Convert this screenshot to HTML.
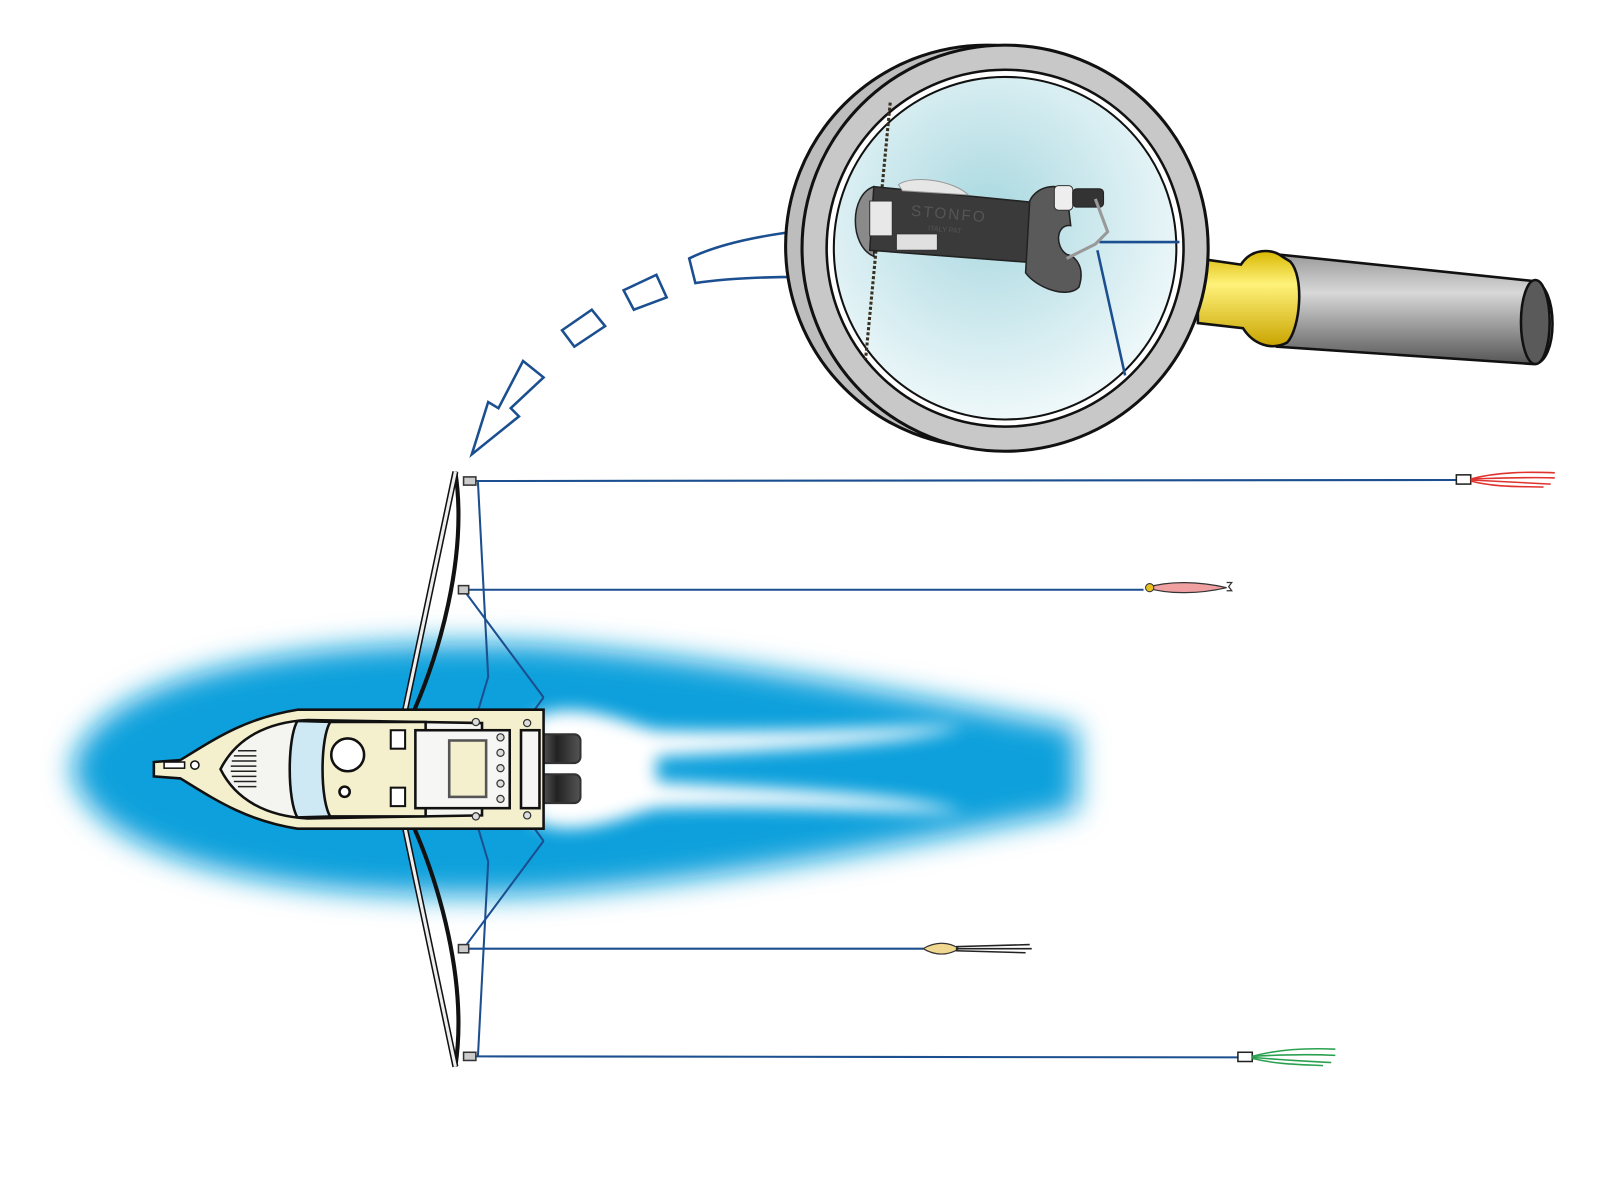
<!DOCTYPE html>
<html><head><meta charset="utf-8"><style>html,body{margin:0;padding:0;background:#fff}svg{display:block}</style></head>
<body>
<svg width="1600" height="1183" viewBox="0 0 1600 1183" xmlns="http://www.w3.org/2000/svg">
<defs>
<filter id="blur" x="-20%" y="-40%" width="140%" height="180%"><feGaussianBlur stdDeviation="14"/></filter>
<filter id="blur2" x="-20%" y="-40%" width="140%" height="180%"><feGaussianBlur stdDeviation="8"/></filter>
<radialGradient id="lens" cx="0.45" cy="0.4" r="0.6"><stop offset="0" stop-color="#a9d8e0"/><stop offset="1" stop-color="#eef8fa"/></radialGradient>
<linearGradient id="handle" x1="0" y1="0" x2="0" y2="1"><stop offset="0" stop-color="#9a9a9a"/><stop offset="0.35" stop-color="#d8d8d8"/><stop offset="1" stop-color="#555"/></linearGradient>
<linearGradient id="collar" x1="0" y1="0" x2="0" y2="1"><stop offset="0" stop-color="#d9b800"/><stop offset="0.35" stop-color="#fff27a"/><stop offset="1" stop-color="#c9a400"/></linearGradient>
<linearGradient id="motor" x1="0" y1="0" x2="1" y2="0"><stop offset="0" stop-color="#777"/><stop offset="0.5" stop-color="#222"/><stop offset="1" stop-color="#555"/></linearGradient>
</defs>
<g transform="scale(1.0256)">
<!-- water -->
<path d="M70,750 C90,650 320,620 520,628 C700,640 900,680 1050,710 L1050,790 C900,820 700,860 520,872 C320,880 90,850 70,750 Z" fill="#0aa0dc" filter="url(#blur)"/>
<path d="M520,700 C560,680 610,705 640,712 C760,716 880,708 940,708 C880,728 720,732 640,738 L640,762 C720,768 880,772 940,792 C880,792 760,784 640,788 C610,795 560,820 520,800 Z" fill="#fff" filter="url(#blur2)"/>

<!-- fishing lines -->
<g stroke="#1b4f8f" stroke-width="2" fill="none">
<line x1="460" y1="469" x2="1420" y2="468"/>
<line x1="452" y1="575" x2="1115" y2="575"/>
<line x1="452" y1="925" x2="900" y2="925"/>
<line x1="462" y1="1030" x2="1208" y2="1031"/>
<line x1="466" y1="470" x2="476" y2="660"/>
<line x1="476" y1="660" x2="464" y2="700"/>
<line x1="452" y1="575" x2="530" y2="680"/>
<line x1="530" y1="680" x2="514" y2="702"/>
<line x1="466" y1="1030" x2="476" y2="840"/>
<line x1="476" y1="840" x2="464" y2="800"/>
<line x1="452" y1="925" x2="530" y2="820"/>
<line x1="530" y1="820" x2="514" y2="798"/>
</g>

<!-- outriggers -->
<g stroke="#111" stroke-width="2.5">
<path d="M444,460 C456,540 430,640 394,714" fill="none" stroke-width="4"/>
<line x1="444" y1="460" x2="390" y2="716" stroke="#111" stroke-width="6"/>
<line x1="444" y1="460" x2="390" y2="716" stroke="#eee" stroke-width="3"/>
<path d="M444,1040 C456,960 430,860 394,786" fill="none" stroke-width="4"/>
<line x1="444" y1="1040" x2="390" y2="784" stroke="#111" stroke-width="6"/>
<line x1="444" y1="1040" x2="390" y2="784" stroke="#eee" stroke-width="3"/>
</g>
<g fill="#ccc" stroke="#333" stroke-width="1.5">
<rect x="452" y="465" width="12" height="8"/><rect x="447" y="571" width="10" height="8"/>
<rect x="447" y="921" width="10" height="8"/><rect x="452" y="1026" width="12" height="8"/>
</g>

<!-- motors -->
<rect x="520" y="716" width="46" height="28" rx="6" fill="url(#motor)" stroke="#333" stroke-width="2"/>
<rect x="520" y="755" width="46" height="28" rx="6" fill="url(#motor)" stroke="#333" stroke-width="2"/>

<!-- boat -->
<g stroke="#111" stroke-width="2.5">
<path d="M150,743 L176,741 C210,720 240,700 290,692 L530,692 L530,808 L290,808 C240,800 210,780 176,759 L150,757 Z" fill="#f4efcc"/>
<path d="M215,750 C230,720 260,704 300,702 L470,705 L470,795 L300,798 C260,796 230,780 215,750 Z" fill="#f4f4f0"/>
<path d="M290,703 C280,720 280,780 290,797 L325,796 C315,780 315,720 325,704 Z" fill="#cfe9f4"/>
<path d="M322,704 C312,720 312,780 322,796 L415,796 L415,704 Z" fill="#f4efcc"/>
<rect x="405" y="712" width="92" height="76" fill="#f6f6f4"/>
<rect x="438" y="722" width="36" height="55" fill="#f4efcc" stroke="#555"/>
<rect x="508" y="712" width="18" height="76" fill="#f6f6f4"/>
<circle cx="339" cy="736" r="16" fill="#fff"/>
<circle cx="336" cy="772" r="5" fill="#fff"/>
<circle cx="190" cy="746" r="4" fill="#fff" stroke-width="1.5"/>
<rect x="160" y="743" width="20" height="6" fill="#fff" stroke-width="1.5"/>
</g>
<g stroke="#222" stroke-width="1.5">
<line x1="228" y1="737" x2="250" y2="737"/><line x1="226" y1="742" x2="250" y2="742"/><line x1="225" y1="747" x2="250" y2="747"/><line x1="225" y1="752" x2="250" y2="752"/><line x1="226" y1="757" x2="250" y2="757"/><line x1="228" y1="762" x2="250" y2="762"/><line x1="232" y1="767" x2="250" y2="767"/><line x1="232" y1="732" x2="250" y2="732"/>
</g>
<g fill="#ddd" stroke="#333" stroke-width="1.2">
<circle cx="488" cy="734" r="3.5"/><circle cx="488" cy="749" r="3.5"/><circle cx="488" cy="764" r="3.5"/><circle cx="488" cy="779" r="3.5"/><circle cx="488" cy="719" r="3.5"/>
<circle cx="464" cy="704" r="3.5"/><circle cx="514" cy="705" r="3.5"/><circle cx="464" cy="796" r="3.5"/><circle cx="514" cy="795" r="3.5"/>
</g>
<rect x="381" y="712" width="14" height="18" fill="#fff" stroke="#111" stroke-width="2"/>
<rect x="381" y="768" width="14" height="18" fill="#fff" stroke="#111" stroke-width="2"/>

<!-- lures -->
<rect x="1420" y="463" width="14" height="9" fill="#fff" stroke="#222" stroke-width="1.5"/>
<g stroke="#e0322e" stroke-width="1.5" fill="none"><path d="M1434,467 C1460,460 1490,460 1516,461"/><path d="M1434,467 C1470,466 1495,465 1516,466"/><path d="M1434,468 C1470,470 1495,471 1512,472"/><path d="M1434,469 C1460,476 1490,474 1505,475"/></g>
<path d="M1118,573 C1140,566 1170,567 1196,573 C1170,579 1140,580 1118,573 Z" fill="#f0a0a0" stroke="#333" stroke-width="1.2"/>
<circle cx="1121" cy="573" r="4" fill="#e8c020" stroke="#333"/>
<path d="M1196,568 l5,0 l-3,4 l3,4 l-5,0" fill="none" stroke="#333" stroke-width="1.2"/>
<path d="M900,925 C912,918 925,918 935,925 C925,932 912,932 900,925 Z" fill="#f0d890" stroke="#333" stroke-width="1.2"/>
<g stroke="#222" stroke-width="1.5"><line x1="932" y1="923" x2="1004" y2="921"/><line x1="932" y1="925" x2="1006" y2="925"/><line x1="932" y1="927" x2="1000" y2="929"/></g>
<rect x="1207" y="1026" width="14" height="9" fill="#fff" stroke="#222" stroke-width="1.5"/>
<g stroke="#2aa050" stroke-width="1.5" fill="none"><path d="M1221,1030 C1250,1022 1280,1022 1302,1023"/><path d="M1221,1030 C1255,1028 1280,1028 1302,1029"/><path d="M1221,1031 C1255,1034 1280,1035 1298,1036"/><path d="M1221,1032 C1245,1038 1270,1038 1290,1039"/></g>

<!-- dashed arrow -->
<g fill="#fff" stroke="#1b4f8f" stroke-width="2.5" stroke-linejoin="miter">
<path d="M672,252 C700,238 740,230 781,225 L781,270 C740,270 705,272 678,276 Z"/>
<path d="M608,283 L640,268 L650,290 L618,302 Z"/>
<path d="M548,322 L577,302 L590,318 L560,338 Z"/>
<path d="M510,352 L530,368 L498,398 L506,406 L460,443 L476,392 L486,398 Z"/>
</g>

<!-- magnifier handle -->
<path d="M1245,248 L1495,274 C1520,277 1520,355 1495,355 L1245,338 Z" fill="url(#handle)" stroke="#111" stroke-width="2.5"/>
<ellipse cx="1497" cy="314" rx="14" ry="41" fill="#5a5a5a" stroke="#111" stroke-width="2.5"/>
<path d="M1168,252 L1210,258 C1220,242 1240,242 1250,250 L1258,255 C1272,270 1268,320 1255,334 C1240,342 1222,336 1212,320 L1168,315 Z" fill="url(#collar)" stroke="#111" stroke-width="2.5"/>

<!-- magnifier ring -->
<circle cx="962" cy="240" r="196" fill="#bdbdbd" stroke="#111" stroke-width="3"/>
<circle cx="980" cy="242" r="198" fill="#c8c8c8" stroke="#111" stroke-width="3"/>
<circle cx="980" cy="242" r="174" fill="#fff" stroke="#111" stroke-width="2.5"/>
<circle cx="980" cy="242" r="167" fill="url(#lens)" stroke="#111" stroke-width="2"/>

<!-- inside lens -->
<line x1="868" y1="100" x2="844" y2="350" stroke="#3a3020" stroke-width="3" stroke-dasharray="3,2"/>
<line x1="1072" y1="236" x2="1150" y2="236" stroke="#1b4f8f" stroke-width="2.5"/>
<line x1="1070" y1="244" x2="1097" y2="366" stroke="#1b4f8f" stroke-width="2.5"/>
<path d="M852,182 C828,190 828,240 852,250 Z" fill="#8a8a8a" stroke="#222" stroke-width="1.5"/>
<path d="M852,182 L1014,198 L1006,256 L848,244 Z" fill="#3a3a3a" stroke="#222" stroke-width="1.5"/>
<path d="M1004,196 C1010,182 1030,178 1040,186 L1044,220 C1030,218 1028,240 1040,248 C1050,250 1058,262 1052,280 C1040,292 1010,280 1000,266 Z" fill="#5a5a5a" stroke="#222" stroke-width="1.5"/>
<rect x="848" y="196" width="22" height="34" fill="#e8e8e8" stroke="#333"/>
<rect x="874" y="228" width="40" height="16" fill="#e0e0e0" stroke="#333"/>
<path d="M876,180 C890,170 930,176 944,190 L880,186 Z" fill="#e6e6e6" stroke="#999"/>
<rect x="1028" y="181" width="18" height="24" rx="4" fill="#eee" stroke="#333"/>
<rect x="1046" y="184" width="30" height="18" rx="4" fill="#333" stroke="#222"/>
<path d="M1068,194 L1080,226 L1068,238 L1040,252" fill="none" stroke="#999" stroke-width="3"/>
<text x="888" y="213" font-family="Liberation Sans, sans-serif" font-size="15" fill="#555" letter-spacing="2" transform="rotate(5 920 210)">STONFO</text>
<text x="905" y="226" font-family="Liberation Sans, sans-serif" font-size="7" fill="#555" transform="rotate(5 920 222)">ITALY PAT</text>
</g>
</svg>
</body></html>
